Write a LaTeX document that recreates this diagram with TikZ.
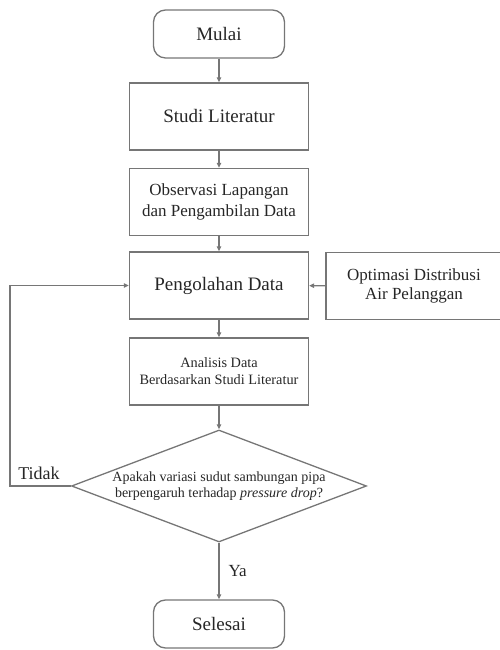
\documentclass[tikz,border=0pt]{standalone}
\usepackage{fontspec}
\setmainfont{Liberation Serif}
\usetikzlibrary{arrows.meta, shapes.geometric}
\definecolor{LineGray}{HTML}{767676}
\definecolor{TextGray}{HTML}{262626}
\tikzset{
    stepbox/.style={draw=LineGray, line width=1.3pt, text=TextGray, align=center,
        minimum width=179pt, minimum height=67pt, inner sep=0pt},
    terminal/.style={stepbox, rounded corners=12pt, minimum width=131pt, minimum height=48pt},
    decision/.style={diamond, draw=LineGray, line width=1.3pt, inner sep=0pt,
        minimum width=295pt, minimum height=112pt},
    flow/.style={draw=LineGray, line width=1.2pt, -{Triangle[length=5pt, width=4.5pt]}},
    tag/.style={text=TextGray, inner sep=0pt},
}

\begin{document}
\begin{tikzpicture}[x=1pt, y=1pt]

    \useasboundingbox (0,0) rectangle (500,650);

    \node[terminal, font=\fontsize{19}{22}\selectfont] (mulai) at (219,616) {Mulai};
    \node[stepbox, font=\fontsize{19}{22}\selectfont] (studi) at (219,533.5) {Studi Literatur};
    \node[stepbox, font=\fontsize{17}{21}\selectfont] (observasi) at (219,448) {Observasi Lapangan\\dan Pengambilan Data};
    \node[stepbox, font=\fontsize{19}{22}\selectfont] (olah) at (219,364.5) {Pengolahan Data};
    \node[stepbox, minimum width=176pt, font=\fontsize{17}{19}\selectfont] (optimasi) at (414,364) {Optimasi Distribusi\\Air Pelanggan};
    \node[stepbox, font=\fontsize{14.3}{17}\selectfont] (analisis) at (219,278.5) {Analisis Data\\Berdasarkan Studi Literatur};
    \node[decision, label={[tag, align=center, font=\fontsize{14}{16.5}\selectfont]center:{Apakah variasi sudut sambungan pipa\\berpengaruh terhadap \textit{pressure drop}?}}] (cek) at (219,164) {};
    \node[terminal, font=\fontsize{19}{22}\selectfont] (selesai) at (219,26) {Selesai};

    % alur utama
    \draw[flow] (mulai) -- (studi);
    \draw[flow] (studi) -- (observasi);
    \draw[flow] (observasi) -- (olah);
    \draw[flow] (optimasi) -- (olah);
    \draw[flow] (olah) -- (analisis);
    \draw[flow] (analisis) -- (cek);
    \draw[flow] (cek) -- node[tag, right=9pt, font=\fontsize{17}{20}\selectfont] (ya) {Ya} (selesai);

    % kembali ke pengolahan data
    \coordinate (balik) at (10,164);
    \draw[flow] (cek.west) -- (balik) |- (olah.west);
    \node[tag, font=\fontsize{18}{21}\selectfont] (tidak) at (39,177) {Tidak};
\end{tikzpicture}
\end{document}
